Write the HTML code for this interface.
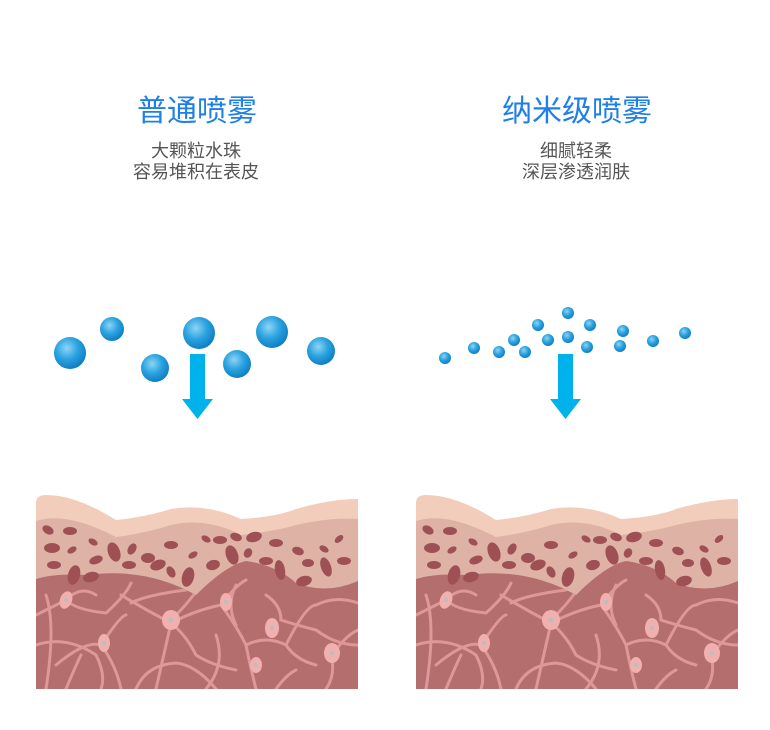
<!DOCTYPE html>
<html><head><meta charset="utf-8"><style>
body{margin:0;background:#fff;width:770px;height:730px;overflow:hidden}
svg{display:block}
.t{font-family:"Liberation Sans","Noto Sans CJK SC",sans-serif}
</style></head><body>
<svg width="770" height="730" viewBox="0 0 770 730" xmlns="http://www.w3.org/2000/svg">
<defs>
<radialGradient id="dg" cx="0.4" cy="0.35" r="0.7">
<stop offset="0" stop-color="#8fd4f5"/><stop offset="0.5" stop-color="#2aa3e0"/><stop offset="1" stop-color="#0c78c0"/>
</radialGradient>
<clipPath id="dc"><path d="M0 84 Q20 78 50 80 Q110 72 160 100 Q190 70 210 66 Q240 70 260 88 Q290 100 322 86 L322 194 L0 194Z"/></clipPath>
<g id="skin">
<path d="M0 8 Q0 0 10 0 Q40 0 80 25 Q110 22 135 14 Q170 8 205 24 Q240 22 260 14 Q295 4 322 4 L322 194 L0 194Z" fill="#f3cdbb"/>
<path d="M0 26 Q30 16 80 42 Q110 38 135 30 Q170 22 205 40 Q240 36 260 30 Q295 22 322 24 L322 194 L0 194Z" fill="#deb3a5"/>
<path d="M0 84 Q20 78 50 80 Q110 72 160 100 Q190 70 210 66 Q240 70 260 88 Q290 100 322 86 L322 194 L0 194Z" fill="#b46e6e"/>
<g fill="#9e5055">
<ellipse cx="12" cy="35" rx="6" ry="4" transform="rotate(30 12 35)"/><ellipse cx="34" cy="36" rx="7" ry="4"/>
<ellipse cx="16" cy="53" rx="8" ry="5"/><ellipse cx="36" cy="55" rx="5" ry="3" transform="rotate(-30 36 55)"/>
<ellipse cx="18" cy="70" rx="7" ry="4"/><ellipse cx="38" cy="80" rx="6" ry="10" transform="rotate(15 38 80)"/>
<ellipse cx="60" cy="65" rx="7" ry="4" transform="rotate(-20 60 65)"/><ellipse cx="55" cy="82" rx="8" ry="5" transform="rotate(-15 55 82)"/>
<ellipse cx="57" cy="47" rx="5" ry="3" transform="rotate(30 57 47)"/><ellipse cx="78" cy="57" rx="6" ry="10" transform="rotate(-20 78 57)"/>
<ellipse cx="96" cy="54" rx="4" ry="6" transform="rotate(30 96 54)"/><ellipse cx="93" cy="70" rx="7" ry="4"/>
<ellipse cx="112" cy="63" rx="7" ry="5"/><ellipse cx="122" cy="70" rx="8" ry="5" transform="rotate(-20 122 70)"/>
<ellipse cx="135" cy="50" rx="7" ry="4"/><ellipse cx="135" cy="77" rx="4" ry="6" transform="rotate(-30 135 77)"/>
<ellipse cx="152" cy="82" rx="6" ry="10" transform="rotate(15 152 82)"/><ellipse cx="157" cy="60" rx="5" ry="3" transform="rotate(-30 157 60)"/>
<ellipse cx="170" cy="44" rx="5" ry="3" transform="rotate(30 170 44)"/><ellipse cx="177" cy="70" rx="7" ry="5" transform="rotate(-15 177 70)"/>
<ellipse cx="184" cy="45" rx="7" ry="4"/><ellipse cx="196" cy="60" rx="6" ry="10" transform="rotate(-20 196 60)"/>
<ellipse cx="200" cy="42" rx="6" ry="4" transform="rotate(20 200 42)"/><ellipse cx="218" cy="42" rx="8" ry="5" transform="rotate(-15 218 42)"/>
<ellipse cx="212" cy="58" rx="4" ry="5" transform="rotate(30 212 58)"/><ellipse cx="230" cy="66" rx="7" ry="4"/>
<ellipse cx="240" cy="48" rx="7" ry="4"/><ellipse cx="244" cy="75" rx="5" ry="10" transform="rotate(-10 244 75)"/>
<ellipse cx="262" cy="56" rx="6" ry="4" transform="rotate(20 262 56)"/><ellipse cx="268" cy="86" rx="8" ry="5" transform="rotate(-15 268 86)"/>
<ellipse cx="272" cy="68" rx="6" ry="4"/><ellipse cx="288" cy="54" rx="5" ry="3" transform="rotate(30 288 54)"/>
<ellipse cx="290" cy="72" rx="5" ry="10" transform="rotate(-20 290 72)"/><ellipse cx="303" cy="44" rx="5" ry="3" transform="rotate(-40 303 44)"/>
<ellipse cx="308" cy="66" rx="7" ry="4"/>
</g>
<g clip-path="url(#dc)">
<g stroke="#df9797" stroke-width="3" fill="none" stroke-linecap="round">
<path d="M0 120 Q20 110 30 105 Q45 90 60 100"/><path d="M30 105 Q40 115 70 118 Q90 100 95 88"/>
<path d="M0 150 Q30 140 60 160 Q70 180 65 194"/><path d="M10 100 Q20 130 10 194"/>
<path d="M20 170 Q50 145 65 150 Q85 120 90 120"/><path d="M65 150 Q80 170 85 194"/>
<path d="M85 100 Q110 115 135 128 Q150 140 160 160 Q175 170 200 175"/><path d="M95 108 Q110 100 150 95"/>
<path d="M135 128 Q130 150 120 194"/><path d="M100 194 Q110 170 140 168 Q160 170 180 194"/>
<path d="M140 120 Q160 100 170 80"/><path d="M135 128 Q160 115 185 110 Q200 90 210 85"/>
<path d="M185 110 Q200 130 210 150 Q230 140 250 150 Q260 165 280 170"/><path d="M210 150 Q215 175 220 194"/>
<path d="M180 140 Q190 170 170 194"/><path d="M250 150 Q270 110 280 110 Q300 100 322 108"/>
<path d="M230 100 Q245 110 245 125 Q260 130 280 135 Q300 150 322 150"/><path d="M295 160 Q300 180 290 194"/>
<path d="M296 160 Q310 140 322 135"/><path d="M240 194 Q250 180 260 175"/>
<path d="M30 194 Q40 170 45 160"/><path d="M200 90 Q190 110 200 130"/>
</g>
<g fill="#f0b0b0"><ellipse cx="30" cy="105" rx="6" ry="9" transform="rotate(20 30 105)"/>
<ellipse cx="135" cy="125" rx="9" ry="10"/><ellipse cx="190" cy="107" rx="6" ry="9"/>
<ellipse cx="68" cy="148" rx="6" ry="9"/><ellipse cx="236" cy="133" rx="7" ry="10"/>
<ellipse cx="220" cy="170" rx="6" ry="8"/><ellipse cx="296" cy="158" rx="8" ry="10"/></g>
<g fill="#b7c0bd"><circle cx="30" cy="105" r="2"/><circle cx="135" cy="125" r="2.5"/><circle cx="190" cy="107" r="2"/><circle cx="68" cy="148" r="2"/><circle cx="236" cy="133" r="2"/><circle cx="220" cy="170" r="2"/><circle cx="296" cy="158" r="2"/></g>
</g>
</g>
</defs>
<text class="t" x="197" y="121" font-size="30" fill="#1e7fe8" text-anchor="middle">普通喷雾</text>
<text class="t" x="196" y="157" font-size="18" fill="#555" text-anchor="middle">大颗粒水珠</text>
<text class="t" x="196" y="178" font-size="18" fill="#555" text-anchor="middle">容易堆积在表皮</text>
<text class="t" x="577" y="121" font-size="30" fill="#1e7fe8" text-anchor="middle">纳米级喷雾</text>
<text class="t" x="576" y="157" font-size="18" fill="#555" text-anchor="middle">细腻轻柔</text>
<text class="t" x="576" y="178" font-size="18" fill="#555" text-anchor="middle">深层渗透润肤</text>
<g fill="url(#dg)">
<circle cx="70" cy="353" r="16"/><circle cx="112" cy="329" r="12"/><circle cx="155" cy="368" r="14"/><circle cx="199" cy="333" r="16"/><circle cx="237" cy="364" r="14"/><circle cx="272" cy="332" r="16"/><circle cx="321" cy="351" r="14"/>
<circle cx="445" cy="358" r="6"/><circle cx="474" cy="348" r="6"/><circle cx="499" cy="352" r="6"/><circle cx="514" cy="340" r="6"/><circle cx="525" cy="352" r="6"/><circle cx="538" cy="325" r="6"/><circle cx="548" cy="340" r="6"/><circle cx="568" cy="313" r="6"/><circle cx="568" cy="337" r="6"/><circle cx="590" cy="325" r="6"/><circle cx="587" cy="347" r="6"/><circle cx="623" cy="331" r="6"/><circle cx="620" cy="346" r="6"/><circle cx="653" cy="341" r="6"/><circle cx="685" cy="333" r="6"/>
</g>
<path d="M190 354 H205 V399 H213 L197.5 419 L182 399 H190Z" fill="#00b2ec"/>
<path d="M558 354 H573 V399 H581 L565.5 419 L550 399 H558Z" fill="#00b2ec"/>
<use href="#skin" transform="translate(36 495)"/>
<use href="#skin" transform="translate(416 495)"/>
</svg>
</body></html>
